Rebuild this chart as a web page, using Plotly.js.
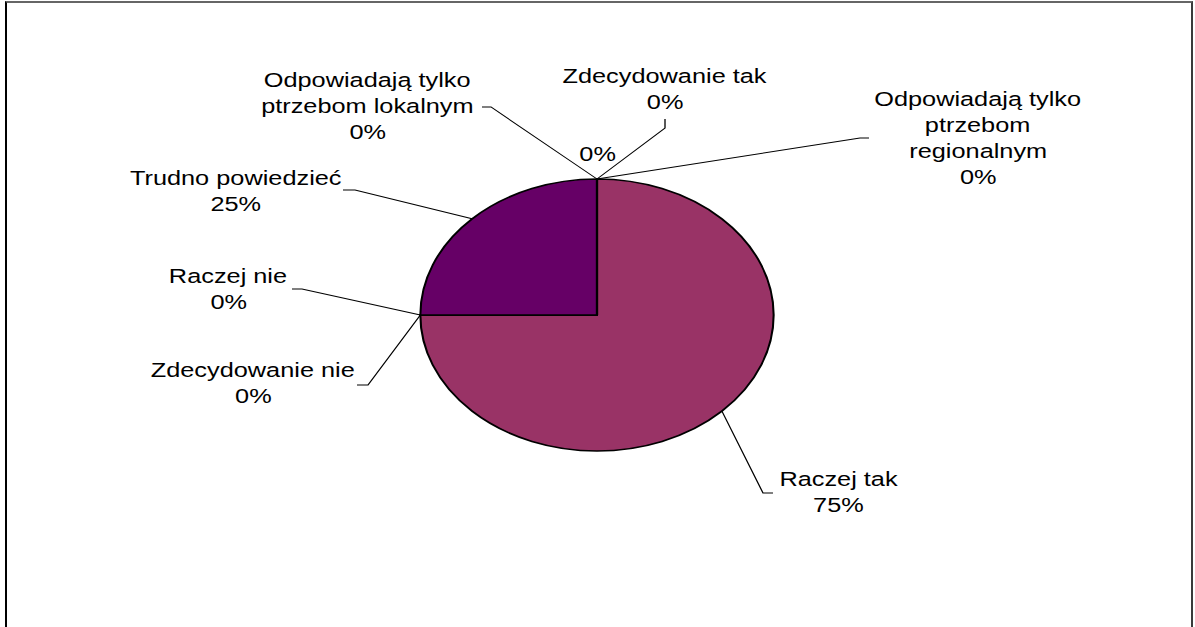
<!DOCTYPE html>
<html>
<head>
<meta charset="utf-8">
<script src="https://cdn.plot.ly/plotly-3.0.1.min.js"></script>
<style>
  html, body { margin: 0; padding: 0; background: #ffffff; overflow: hidden; }
  #wrap { position: absolute; left: 0; top: 0; width: 920px; height: 627px; transform-origin: 0 0; }
  #frame { position: absolute; left: 5px; top: 1px; width: 1184px; height: 660px;
           border-left: 2px solid #000000; border-top: 2px solid #666666; border-right: 2px solid #3a3a3a;
           pointer-events: none; }
</style>
</head>
<body>
<div id="wrap"><div id="chart"></div></div>
<div id="frame"></div>
<script>
// ---------------- DATA ----------------
const categories = [
  "Zdecydowanie tak",
  "Raczej tak",
  "Raczej nie",
  "Zdecydowanie nie",
  "Trudno powiedzieć",
  "Odpowiadają tylko ptrzebom lokalnym",
  "Odpowiadają tylko ptrzebom regionalnym",
  ""
];
const values = [0, 75, 0, 0, 25, 0, 0, 0];
const colors = ["#9999FF", "#993366", "#FFFFCC", "#CCFFFF", "#660066", "#FF8080", "#0066CC", "#CCCCFF"];

// ---------------- LAYOUT / STYLE ----------------
const W = 920, H = 627;            // drawing size before horizontal stretch
const S = 1195 / W;                // horizontal stretch of the original image
document.getElementById('wrap').style.transform = 'scaleX(' + S + ')';
const pieGeom = { cx: 597 / S, cy: 315, r: 136 };
const FONT = { family: "Liberation Sans, Arial, sans-serif", size: 19.5, color: "#000000" };
const LINE_STEP = 26;

// words per line for each label name, label position (reference px: centre x, first line y)
const labelWrap = [[2], [2], [2], [2], [2], [2, 2], [2, 1, 1], []];
const labelPos = [
  [665, 76], [839, 479], [228, 276], [253, 370], [236, 178], [367, 80], [978, 99], [598, 154]
];
// leader-line bend points from the label side (reference px); last point is the pie edge
const leaderBends = [
  [[665, 119], [665, 128]],
  [[773, 493], [763, 493]],
  [[292, 289], [302, 289]],
  [[357, 385], [368, 385]],
  [[343, 190], [355, 190]],
  [[482, 107], [491, 107]],
  [[869, 138], [860, 138]],
  null
];

// ---------------- BUILD ----------------
const total = values.reduce((a, b) => a + b, 0);
const pct = values.map(v => Math.round(v / total * 100) + '%');

function wrapName(name, spec) {
  const words = name.split(' ').filter(w => w.length);
  const lines = [];
  let i = 0;
  spec.forEach(n => { lines.push(words.slice(i, i + n).join(' ')); i += n; });
  if (i < words.length) lines.push(words.slice(i).join(' '));
  return lines.filter(l => l.length);
}

const annotations = [];
categories.forEach((name, k) => {
  const lines = wrapName(name, labelWrap[k]).concat([pct[k]]);
  lines.forEach((t, j) => {
    annotations.push({
      x: labelPos[k][0] / S, y: labelPos[k][1] + j * LINE_STEP,
      xref: 'x', yref: 'y', text: t, showarrow: false,
      xanchor: 'center', yanchor: 'middle', font: FONT
    });
  });
});

// leader lines: end point on the pie edge at each slice's mid angle (clockwise from 12 o'clock)
const lx = [], ly = [];
let cum = 0;
values.forEach((v, k) => {
  const mid = (cum + v / 2) / total * 2 * Math.PI;
  cum += v;
  if (!leaderBends[k]) return;
  leaderBends[k].forEach(p => { lx.push(p[0] / S); ly.push(p[1]); });
  lx.push(pieGeom.cx + pieGeom.r * Math.sin(mid));
  ly.push(pieGeom.cy - pieGeom.r * Math.cos(mid));
  lx.push(null); ly.push(null);
});

const pieTrace = {
  type: 'pie',
  labels: categories.map((c, i) => c === '' ? ' ' : c),
  values: values,
  sort: false,
  direction: 'clockwise',
  rotation: 0,
  textinfo: 'none',
  hoverinfo: 'none',
  showlegend: false,
  marker: { colors: colors, line: { color: '#000000', width: 1.6 } },
  domain: {
    x: [(pieGeom.cx - pieGeom.r) / W, (pieGeom.cx + pieGeom.r) / W],
    y: [(H - pieGeom.cy - pieGeom.r) / H, (H - pieGeom.cy + pieGeom.r) / H]
  }
};

const leaderTrace = {
  type: 'scatter', mode: 'lines', x: lx, y: ly,
  line: { color: '#000000', width: 1 },
  hoverinfo: 'skip', showlegend: false, connectgaps: false
};

const layout = {
  width: W, height: H,
  margin: { l: 0, r: 0, t: 0, b: 0 },
  paper_bgcolor: 'rgba(0,0,0,0)', plot_bgcolor: 'rgba(0,0,0,0)',
  xaxis: { range: [0, W], visible: false, fixedrange: true },
  yaxis: { range: [H, 0], visible: false, fixedrange: true },
  annotations: annotations,
  showlegend: false
};

Plotly.newPlot('chart', [leaderTrace, pieTrace], layout, { staticPlot: true, displayModeBar: false });
</script>
</body>
</html>
